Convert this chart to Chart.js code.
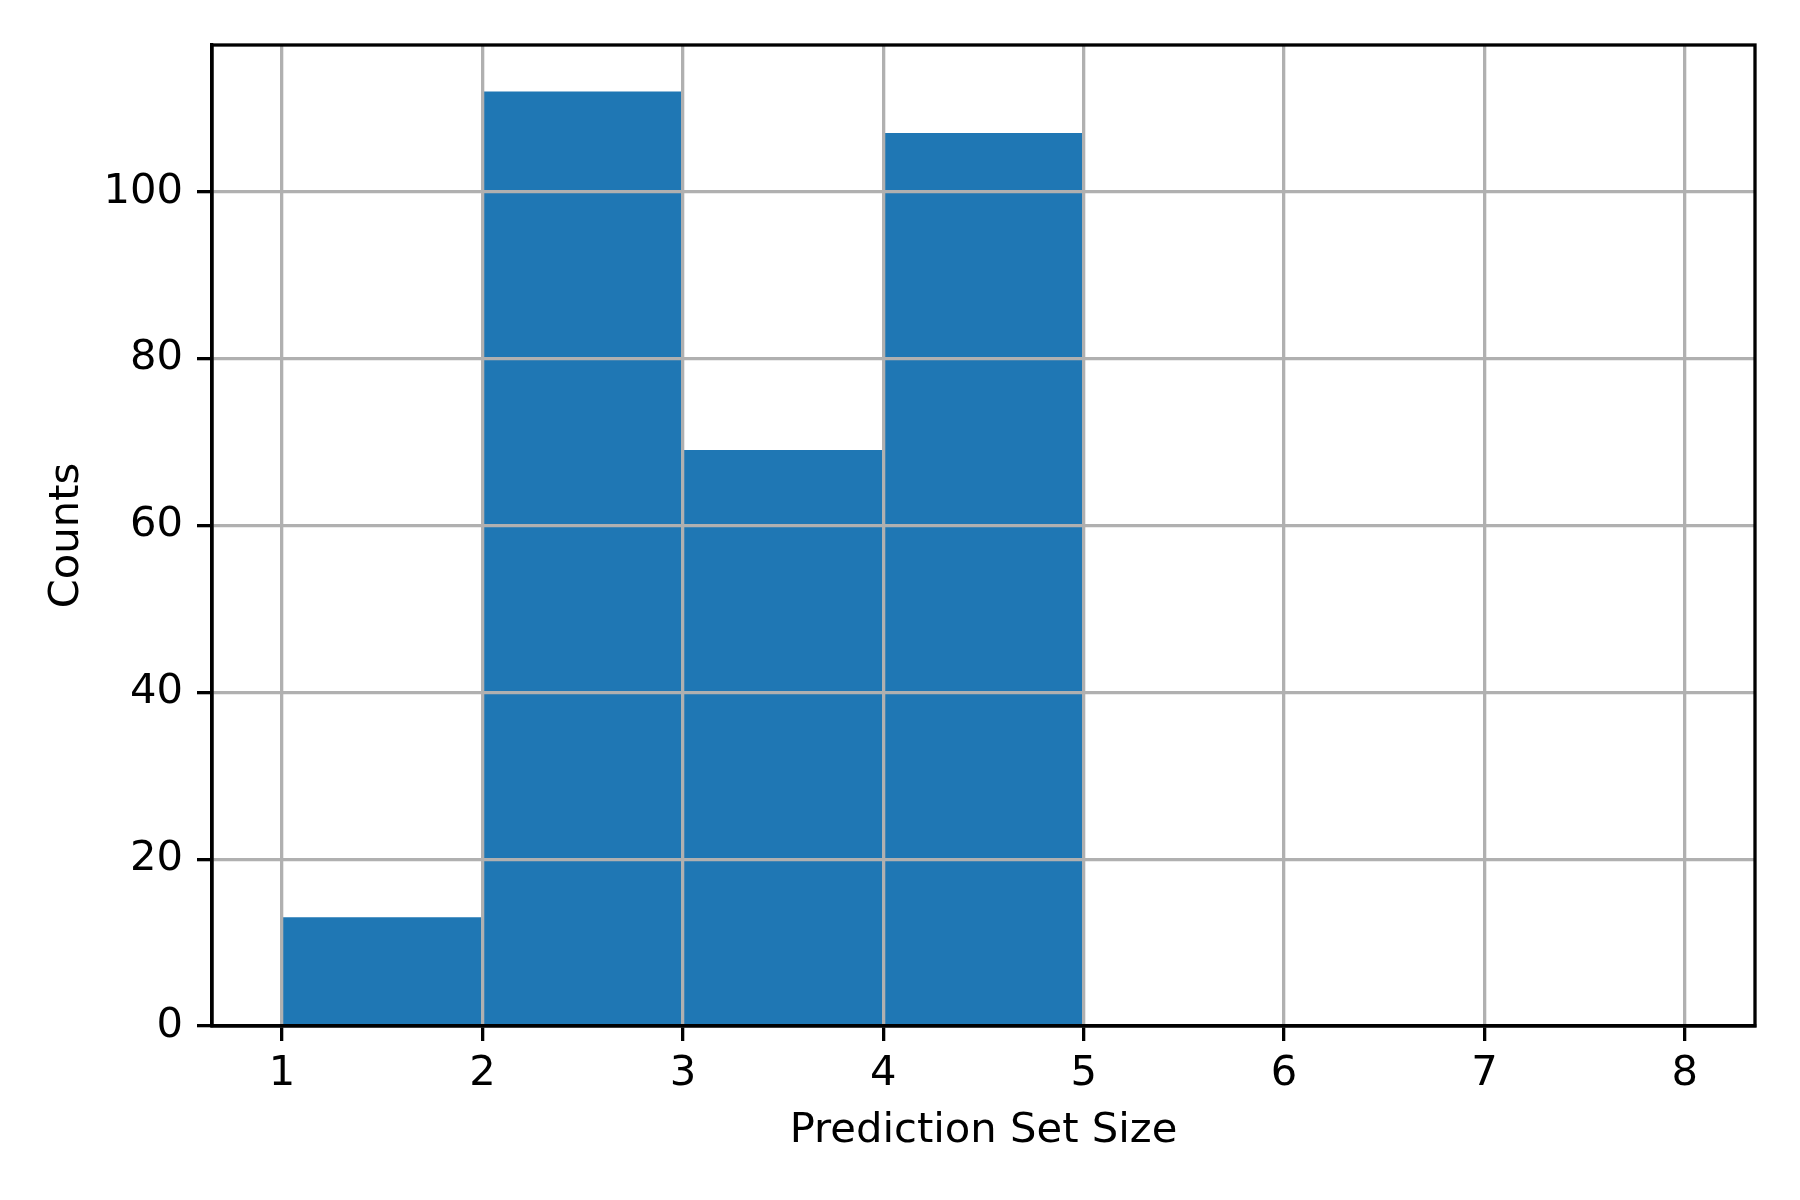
<!DOCTYPE html>
<html>
<head>
<meta charset="utf-8">
<script src="https://cdn.jsdelivr.net/npm/chart.js@4/dist/chart.umd.min.js"></script>
<style>
  html, body { margin: 0; padding: 0; background: #fff; }
  #wrap { width: 1800px; height: 1200px; }
</style>
</head>
<body>
<div id="wrap"><canvas id="hist" width="1800" height="1200"></canvas></div>
<script>
// histogram bins (left edges) and counts per bin
const binEdges = [1, 2, 3, 4, 5, 6, 7, 8]
const counts = [13, 112, 69, 107, 0, 0, 0]
const xTicks = [1, 2, 3, 4, 5, 6, 7, 8]
const yTicks = [0, 20, 40, 60, 80, 100]

const barData = counts.map((c, i) => ({ x: (binEdges[i] + binEdges[i + 1]) / 2, y: c }))

const font = { family: 'DejaVu Sans', size: 41.7 }
const lw = 3.3

// draws the top/right spines so the plot gets a full box
const frame = {
  id: 'frame',
  afterDraw(chart) {
    const { ctx, chartArea: a } = chart
    ctx.save()
    ctx.strokeStyle = '#000'
    ctx.lineWidth = lw
    ctx.strokeRect(a.left, a.top, a.right - a.left, a.bottom - a.top)
    ctx.restore()
  }
}

new Chart(document.getElementById('hist'), {
  type: 'bar',
  data: {
    datasets: [{
      data: barData,
      backgroundColor: '#1f77b4',
      borderWidth: 0,
      barPercentage: 1,
      categoryPercentage: 1
    }]
  },
  options: {
    responsive: false,
    animation: false,
    events: [],
    layout: { padding: { left: 0, top: 45, right: 45, bottom: 0 } },
    plugins: { legend: { display: false }, tooltip: { enabled: false } },
    scales: {
      x: {
        type: 'linear',
        min: 0.65,
        max: 8.35,
        offset: false,
        z: 2,
        afterFit: s => { s.height = 174 },
        afterBuildTicks: s => { s.ticks = xTicks.map(v => ({ value: v })) },
        grid: { z: 1, offset: false, color: '#b0b0b0', lineWidth: lw, tickColor: '#000', tickLength: 15, tickWidth: lw },
        border: { z: 2, display: true, color: '#000', width: lw },
        ticks: { z: 2, color: '#000', font: font, padding: 8, maxRotation: 0 },
        title: { display: true, text: 'Prediction Set Size', color: '#000', font: font, padding: { top: 0, bottom: 44 } }
      },
      y: {
        min: 0,
        max: 117.6,
        z: 2,
        afterFit: s => { s.width = 212 },
        afterBuildTicks: s => { s.ticks = yTicks.map(v => ({ value: v })) },
        grid: { z: 1, color: '#b0b0b0', lineWidth: lw, tickColor: '#000', tickLength: 15, tickWidth: lw },
        border: { z: 2, display: true, color: '#000', width: lw },
        ticks: { z: 2, color: '#000', font: font, padding: 14 },
        title: { display: true, text: 'Counts', color: '#000', font: font, padding: { top: 42, bottom: 0 } }
      }
    }
  },
  plugins: [frame]
})
</script>
</body>
</html>
